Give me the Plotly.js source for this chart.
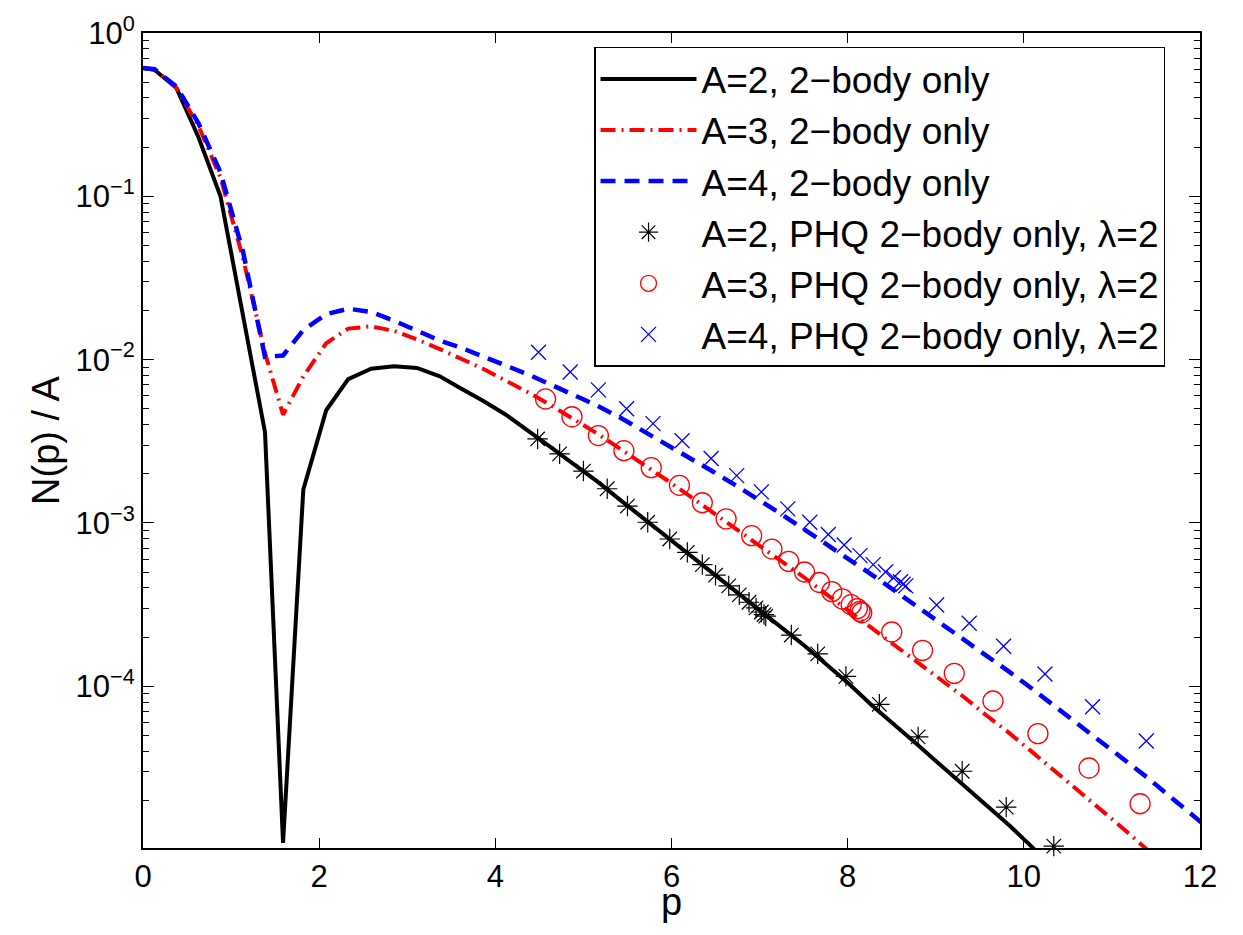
<!DOCTYPE html>
<html>
<head>
<meta charset="utf-8">
<script src="https://cdn.plot.ly/plotly-3.0.1.min.js"></script>
<style>html,body{margin:0;padding:0;background:#fff;}#chart{width:1243px;height:935px;}</style>
</head>
<body>
<div id="chart"></div>
<script>
// Momentum grid for the full calculations
const pGrid = [0, 0.13, 0.38, 0.63, 0.88, 1.135, 1.385, 1.59, 1.82, 2.08, 2.33, 2.59, 2.85, 3.11, 3.37, 3.6,
  3.86, 4.12, 4.38, 4.64, 4.9, 5.16, 5.42, 5.68, 5.94, 6.2, 6.46, 6.72, 6.98, 7.24, 7.5, 7.76, 8.02, 8.28,
  8.54, 8.8, 9.06, 9.32, 9.58, 9.84, 10.1, 10.36];
const pGridLong = [0, 0.13, 0.38, 0.63, 0.88, 1.135, 1.385, 1.59, 1.82, 2.08, 2.33, 2.59, 2.85, 3.11, 3.37, 3.6,
  3.86, 4.12, 4.38, 4.64, 4.9, 5.16, 5.42, 5.68, 5.94, 6.2, 6.46, 6.72, 6.98, 7.24, 7.5, 7.76, 8.02, 8.28,
  8.54, 8.8, 9.06, 9.32, 9.58, 9.84, 10.1, 10.36, 10.62, 10.88, 11.14, 11.4, 11.66, 11.92, 12.18];

const nA2 = [0.61, 0.595, 0.46, 0.23, 0.10, 0.019, 0.0036, 1.1e-5, 1.6e-3, 4.9e-3, 7.6e-3, 8.8e-3, 9.1e-3, 8.9e-3, 7.9e-3, 6.7e-3,
  5.6e-3, 4.6e-3, 3.66e-3, 2.88e-3, 2.27e-3, 1.79e-3, 1.38e-3, 1.07e-3, 8.3e-4, 6.46e-4, 5.0e-4, 3.88e-4, 3.01e-4, 2.33e-4,
  1.79e-4, 1.36e-4, 1.03e-4, 7.6e-5, 5.8e-5, 4.35e-5, 3.27e-5, 2.47e-5, 1.86e-5, 1.40e-5, 1.03e-5, 7.3e-6];

const nA3 = [0.61, 0.60, 0.46, 0.27, 0.13, 0.042, 0.011, 0.0046, 0.0079, 0.0126, 0.0155, 0.016, 0.015, 0.0133, 0.0116, 0.0102,
  8.8e-3, 7.43e-3, 6.28e-3, 5.22e-3, 4.29e-3, 3.52e-3, 2.84e-3, 2.30e-3, 1.84e-3, 1.47e-3, 1.17e-3, 9.3e-4, 7.43e-4, 5.93e-4,
  4.67e-4, 3.66e-4, 2.88e-4, 2.27e-4, 1.79e-4, 1.40e-4, 1.10e-4, 8.6e-5, 6.6e-5, 5.15e-5, 3.94e-5, 3.01e-5, 2.30e-5, 1.76e-5,
  1.33e-5, 1.0e-5, 7.6e-6];

const nA4 = [0.61, 0.60, 0.47, 0.28, 0.14, 0.046, 0.0104, 0.0106, 0.0152, 0.019, 0.0205, 0.0196, 0.0173, 0.0151, 0.0131, 0.0119,
  0.0104, 9.19e-3, 8.09e-3, 7.03e-3, 6.10e-3, 5.22e-3, 4.41e-3, 3.66e-3, 3.05e-3, 2.54e-3, 2.08e-3, 1.71e-3, 1.40e-3, 1.14e-3,
  9.18e-4, 7.43e-4, 6.01e-4, 4.80e-4, 3.83e-4, 3.05e-4, 2.44e-4, 1.94e-4, 1.55e-4, 1.22e-4, 9.6e-5, 7.5e-5, 5.9e-5, 4.6e-5,
  3.56e-5, 2.77e-5, 2.11e-5, 1.62e-5, 1.24e-5];

// PHQ points
const phqP2 = [4.48, 4.73, 5.00, 5.27, 5.50, 5.73, 5.98, 6.18, 6.35, 6.50, 6.65, 6.77, 6.88, 6.96, 7.02, 7.05, 7.07,
  7.36, 7.66, 7.98, 8.36, 8.80, 9.30, 9.80, 10.34];
const phqN2 = [3.27e-3, 2.65e-3, 2.08e-3, 1.62e-3, 1.27e-3, 1.01e-3, 7.98e-4, 6.61e-4, 5.56e-4, 4.79e-4, 4.12e-4, 3.63e-4,
  3.27e-4, 3.02e-4, 2.85e-4, 2.75e-4, 2.69e-4, 2.06e-4, 1.58e-4, 1.15e-4, 7.76e-5, 4.90e-5, 3.02e-5, 1.82e-5, 1.05e-5];

const phqP3 = [4.57, 4.87, 5.17, 5.46, 5.77, 6.09, 6.35, 6.62, 6.91, 7.14, 7.33, 7.51, 7.68, 7.82, 7.94, 8.04, 8.11, 8.14, 8.16,
  8.50, 8.85, 9.21, 9.65, 10.16, 10.74, 11.32];
const phqN3 = [5.75e-3, 4.47e-3, 3.43e-3, 2.77e-3, 2.18e-3, 1.70e-3, 1.33e-3, 1.06e-3, 8.36e-4, 6.92e-4, 5.82e-4, 5.01e-4,
  4.32e-4, 3.80e-4, 3.43e-4, 3.16e-4, 2.99e-4, 2.88e-4, 2.82e-4, 2.15e-4, 1.66e-4, 1.20e-4, 8.13e-5, 5.13e-5, 3.16e-5, 1.91e-5];

const phqP4 = [4.49, 4.85, 5.17, 5.49, 5.79, 6.12, 6.45, 6.74, 7.02, 7.32, 7.57, 7.78, 7.96, 8.14, 8.29, 8.43, 8.52, 8.60, 8.63, 8.66,
  9.01, 9.38, 9.77, 10.24, 10.78, 11.39];
const phqN4 = [1.11e-2, 8.41e-3, 6.53e-3, 5.01e-3, 4.06e-3, 3.19e-3, 2.48e-3, 1.95e-3, 1.55e-3, 1.22e-3, 1.01e-3, 8.51e-4,
  7.33e-4, 6.31e-4, 5.56e-4, 5.01e-4, 4.62e-4, 4.37e-4, 4.22e-4, 4.12e-4, 3.15e-4, 2.43e-4, 1.76e-4, 1.19e-4, 7.50e-5, 4.62e-5];

const seriesNames = ["A=2, 2\u2212body only", "A=3, 2\u2212body only", "A=4, 2\u2212body only",
  "A=2, PHQ 2\u2212body only, \u03bb=2", "A=3, PHQ 2\u2212body only, \u03bb=2", "A=4, PHQ 2\u2212body only, \u03bb=2"];

const xTitle = "p";
const yTitle = "N(p) / A";
const yTickVals = [1, 0.1, 0.01, 0.001, 0.0001];
const yTickText = ["10<sup>0</sup>", "10<sup>\u22121</sup>", "10<sup>\u22122</sup>", "10<sup>\u22123</sup>", "10<sup>\u22124</sup>"];
const xTickVals = [0, 2, 4, 6, 8, 10, 12];

const minorVals = [];
for (let e = -5; e < 0; e++) for (let m = 2; m <= 9; m++) minorVals.push(m * Math.pow(10, e));

const FONT = "Liberation Sans, Arial, Helvetica, sans-serif";

const traces = [
  {x: pGrid, y: nA2, mode: "lines", name: seriesNames[0], line: {color: "#000000", width: 4}},
  {x: pGridLong.slice(0, nA3.length), y: nA3, mode: "lines", name: seriesNames[1], line: {color: "#ff0000", width: 4, dash: "15px,6px,2px,6px"}},
  {x: pGridLong, y: nA4, mode: "lines", name: seriesNames[2], line: {color: "#0000ff", width: 4.5, dash: "15px,9px"}},
  {x: phqP2, y: phqN2, mode: "markers", name: seriesNames[3], cliponaxis: false,
    marker: {symbol: "asterisk-open", size: 17, color: "#000000", line: {color: "#000000", width: 1.2}}},
  {x: phqP3, y: phqN3, mode: "markers", name: seriesNames[4], cliponaxis: false,
    marker: {symbol: "circle-open", size: 20, color: "#ff0000", line: {color: "#ff0000", width: 1.3}}},
  {x: phqP4, y: phqN4, mode: "markers", name: seriesNames[5], cliponaxis: false,
    marker: {symbol: "x-thin-open", size: 15, color: "#0000ff", line: {color: "#0000ff", width: 1.3}}}
];

const layout = {
  width: 1243, height: 935,
  margin: {l: 143, r: 43, t: 33, b: 87},
  paper_bgcolor: "#ffffff", plot_bgcolor: "#ffffff",
  font: {family: FONT, size: 31, color: "#000000"},
  showlegend: true,
  legend: {x: 0.4267, y: 0.983, xanchor: "left", yanchor: "top", bgcolor: "#ffffff",
    bordercolor: "#000000", borderwidth: 1.5, font: {family: FONT, size: 37, color: "#000000"},
    itemwidth: 96, tracegroupgap: 0},
  xaxis: {range: [0, 12], tickvals: xTickVals, ticktext: xTickVals.map(String), ticks: "inside", ticklen: 10,
    tickwidth: 1, tickcolor: "#000", showline: true, linecolor: "#000", linewidth: 2, mirror: "ticks",
    showgrid: false, zeroline: false, tickfont: {family: FONT, size: 31}},
  yaxis: {type: "log", range: [-4.99, 0], tickvals: yTickVals, ticktext: yTickText, ticks: "inside", ticklen: 11,
    tickwidth: 1, tickcolor: "#000", showline: true, linecolor: "#000", linewidth: 2, mirror: "ticks",
    showgrid: false, zeroline: false, tickfont: {family: FONT, size: 31},
    minor: {tickvals: minorVals, ticks: "inside", ticklen: 6, tickwidth: 1, tickcolor: "#000", showgrid: false},
    title: {text: yTitle, font: {family: FONT, size: 38}, standoff: 4}},
  annotations: [
    {text: xTitle, xref: "paper", yref: "paper", x: 0.5, y: -0.038, xanchor: "center", yanchor: "top",
      showarrow: false, font: {family: FONT, size: 38, color: "#000000"}}
  ]
};

Plotly.newPlot("chart", traces, layout, {displayModeBar: false, staticPlot: true});
</script>
</body>
</html>
